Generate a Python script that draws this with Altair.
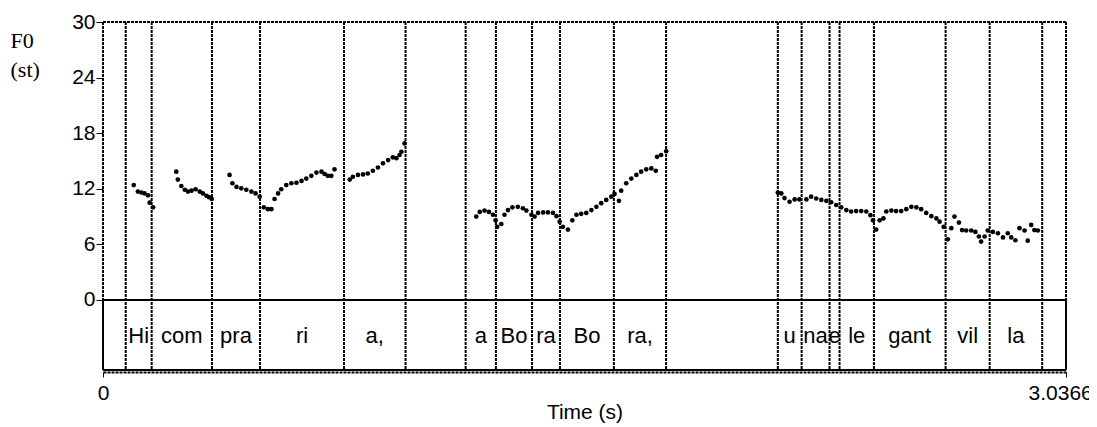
import altair as alt
import pandas as pd

T_END = 3.03669
Y_TOP = 30
TIER_BOTTOM = -7.55
Y_MIN = -7.77

# F0 pitch track (time in s, F0 in semitones)
f0_time = [
    0.097, 0.110, 0.121, 0.131, 0.142, 0.147, 0.158,
    0.231, 0.236, 0.247, 0.258, 0.268, 0.279, 0.292, 0.305, 0.315, 0.326, 0.334, 0.343,
    0.399, 0.408, 0.421, 0.436, 0.452, 0.468, 0.481, 0.494,
    0.507, 0.520, 0.531, 0.541, 0.552, 0.562, 0.578, 0.594, 0.610, 0.626, 0.641, 0.657,
    0.673, 0.689, 0.699, 0.709, 0.720, 0.730,
    0.778, 0.788, 0.804, 0.820, 0.835, 0.851, 0.867, 0.883, 0.899, 0.914, 0.925, 0.935,
    0.941, 0.951,
    1.177, 1.188, 1.203, 1.217, 1.230, 1.238, 1.243, 1.256, 1.266, 1.277, 1.291, 1.308,
    1.324, 1.335, 1.351, 1.361, 1.372, 1.388, 1.403, 1.419, 1.430, 1.440, 1.450, 1.466,
    1.480, 1.493, 1.508, 1.524, 1.540, 1.556, 1.571, 1.587, 1.603, 1.613, 1.627, 1.634,
    1.650, 1.666, 1.682, 1.697, 1.713, 1.729, 1.743, 1.747, 1.760, 1.776,
    2.128, 2.139, 2.149, 2.165, 2.181, 2.196, 2.218, 2.233, 2.249, 2.265, 2.281, 2.296,
    2.312, 2.328, 2.344, 2.359, 2.375, 2.391, 2.407, 2.420, 2.428, 2.438, 2.449, 2.461,
    2.470, 2.486, 2.501, 2.517, 2.533, 2.549, 2.565, 2.580, 2.596, 2.612, 2.628, 2.638,
    2.651, 2.664, 2.675, 2.685, 2.699, 2.709, 2.722, 2.738, 2.751, 2.762, 2.769, 2.780,
    2.790, 2.806, 2.822, 2.838, 2.853, 2.864, 2.877, 2.890, 2.906, 2.916, 2.927, 2.937,
    2.948,
]
f0_st = [
    12.4, 11.7, 11.6, 11.5, 11.3, 10.5, 10.0,
    13.85, 13.0, 12.3, 11.9, 11.7, 11.8, 11.95, 11.7, 11.5, 11.25, 11.1, 10.9,
    13.5, 12.6, 12.2, 12.05, 11.9, 11.7, 11.5, 11.15,
    10.0, 9.8, 9.8, 10.9, 11.5, 11.95, 12.4, 12.6, 12.65, 12.85, 13.1, 13.4,
    13.75, 13.85, 13.6, 13.4, 13.4, 14.1,
    13.0, 13.3, 13.5, 13.55, 13.65, 13.95, 14.3, 14.75, 15.1, 15.4, 15.3, 15.65,
    16.0, 16.9,
    9.0, 9.5, 9.65, 9.5, 9.2, 8.6, 7.9, 8.2, 9.2, 9.7, 10.0, 10.05,
    9.9, 9.65, 9.2, 9.0, 9.4, 9.45, 9.45, 9.4, 9.05, 8.45, 7.9, 7.6,
    8.6, 9.2, 9.3, 9.4, 9.7, 10.05, 10.45, 10.8, 11.15, 11.45, 10.7, 11.8,
    12.6, 13.1, 13.5, 13.85, 14.1, 14.2, 13.95, 15.45, 15.65, 16.05,
    11.6, 11.5, 11.0, 10.6, 10.85, 10.85, 10.85, 11.15, 10.95, 10.8, 10.7, 10.55,
    10.25, 10.0, 9.7, 9.55, 9.6, 9.6, 9.55, 9.15, 8.6, 7.6, 8.6, 8.8,
    9.55, 9.65, 9.6, 9.6, 9.8, 10.05, 10.0, 9.8, 9.4, 9.05, 8.8, 8.45,
    7.9, 6.55, 7.75, 9.0, 8.35, 7.55, 7.5, 7.5, 7.35, 6.85, 6.3, 6.85,
    7.5, 7.35, 7.2, 6.75, 7.2, 6.75, 6.45, 7.75, 7.5, 6.4, 8.1, 7.55,
    7.5,
]

# interval tier boundaries (s) and syllable labels
boundaries = [0.0716, 0.1535, 0.3436, 0.495, 0.760, 0.954, 1.1435, 1.239, 1.353,
              1.441, 1.611, 1.7756, 2.128, 2.203, 2.291, 2.3226, 2.431, 2.657,
              2.796, 2.9616]
interval_labels = ["", "Hi", "com", "pra", "ri", "a,", "", "a", "Bo", "ra", "Bo",
                   "ra,", "", "u", "na", "e", "le", "gant", "vil", "la", ""]

y_ticks = [0, 6, 12, 18, 24, 30]
x_ticks = [0, T_END]

pts = pd.DataFrame({"t": f0_time, "f0": f0_st})
edges = [0.0] + boundaries + [T_END]
lab = pd.DataFrame({
    "mid": [(a + b) / 2 for a, b in zip(edges[:-1], edges[1:])],
    "label": interval_labels,
})
lab = lab[lab["label"] != ""]
lab["y"] = -4.64

dotted = pd.DataFrame({
    "x":  [0.0, T_END, 0.0] + boundaries,
    "x2": [T_END, T_END, 0.0] + boundaries,
    "y":  [Y_TOP, Y_TOP, Y_TOP] + [Y_TOP] * len(boundaries),
    "y2": [Y_TOP, 0, 0] + [TIER_BOTTOM] * len(boundaries),
})
solid = pd.DataFrame({
    "x":  [0.0, 0.0, 0.0, T_END],
    "x2": [T_END, T_END, 0.0, T_END],
    "y":  [0, TIER_BOTTOM, 0, 0],
    "y2": [0, TIER_BOTTOM, TIER_BOTTOM, TIER_BOTTOM],
})

xscale = alt.Scale(domain=[0, T_END], nice=False, zero=False)
yscale = alt.Scale(domain=[Y_MIN, Y_TOP], nice=False, zero=False)

xaxis = alt.Axis(values=x_ticks, format=".6~g", title="Time (s)", grid=False,
                 tickSize=5, tickColor="black", domainColor="black", domainDash=[3, 1],
                 domainWidth=2, labelPadding=5, labelFontSize=21, titleFontSize=21,
                 labelFont="Liberation Sans", titleFont="Liberation Sans",
                 titleFontWeight="normal", labelColor="black", titleColor="black",
                 titlePadding=-2, labelFlush=False, labelOverlap=False)
yaxis = alt.Axis(values=y_ticks, title=["F0", "(st)"], grid=False, domain=False,
                 tickSize=7, tickColor="black", labelPadding=1, labelFontSize=21,
                 labelFont="Liberation Sans", labelColor="black",
                 titleFont="Liberation Serif", titleFontSize=22, titleFontWeight="normal",
                 titleColor="black", titleAngle=0, titleAlign="left",
                 titleBaseline="alphabetic", titleX=-93, titleY=25, titleLineHeight=29)

base_x = alt.X("x:Q", scale=xscale, axis=xaxis)
base_y = alt.Y("y:Q", scale=yscale, axis=yaxis)

dot_layer = alt.Chart(dotted).mark_rule(color="black", strokeDash=[3, 1], strokeWidth=2).encode(
    x=base_x, x2="x2:Q", y=base_y, y2="y2:Q")
solid_layer = alt.Chart(solid).mark_rule(color="black", strokeWidth=2).encode(
    x=alt.X("x:Q", scale=xscale), x2="x2:Q", y=alt.Y("y:Q", scale=yscale), y2="y2:Q")
points = alt.Chart(pts).mark_circle(color="black", opacity=1, size=22).encode(
    x=alt.X("t:Q", scale=xscale), y=alt.Y("f0:Q", scale=yscale))
labels = alt.Chart(lab).mark_text(font="Liberation Sans", fontSize=22, color="black",
                                  baseline="alphabetic", align="center").encode(
    x=alt.X("mid:Q", scale=xscale), y=alt.Y("y:Q", scale=yscale), text="label:N")

chart = alt.layer(dot_layer, solid_layer, points, labels).properties(
    width=963, height=350,
    autosize=alt.AutoSizeParams(type="none"),
    padding={"left": 95, "top": 14, "right": 23, "bottom": 55},
).configure_view(stroke=None)

chart.save("out.html", embed_options={"renderer": "svg", "actions": False})
